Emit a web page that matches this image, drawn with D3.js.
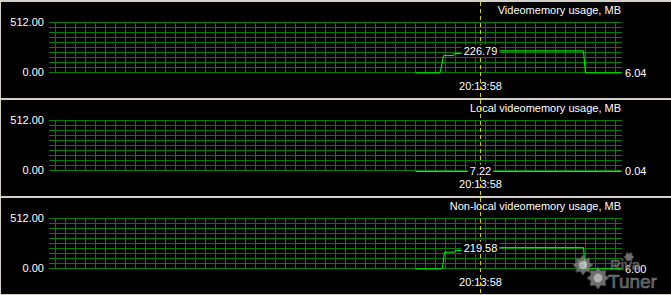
<!DOCTYPE html>
<html>
<head>
<meta charset="utf-8">
<script src="https://cdn.jsdelivr.net/npm/d3@7"></script>
<style>
  body { margin: 0; background: #d4d0c8; }
  svg { display: block; }
  text { font-family: "Liberation Sans", Arial, sans-serif; font-size: 11px; fill: #fff; }
</style>
</head>
<body>
<svg id="chart" width="671" height="295"></svg>
<script>
// panel titles and axis labels
var titles = ["Videomemory usage, MB", "Local videomemory usage, MB", "Non-local videomemory usage, MB"];
var yTicks = [0, 512];
var cursorLabel = "20:13:58";

// samples: seconds relative to cursor, value in MB
var videoT = [-65, -41, -40, -37, -27, -26, -5, 0, 103, 104, 105, 141];
var videoV = [6.04, 6.04, 25, 180, 180, 200, 200, 226.79, 226.79, 110, 6.04, 6.04];
var localT = [-65, 141];
var localV = [0.04, 0.04];
var nonlocalT = [-65, -39, -38, -36, -26, -25, -5, 0, 103, 104, 105, 141];
var nonlocalV = [6.0, 6.0, 20, 174, 174, 190, 190, 219.58, 219.58, 100, 6.0, 6.0];

var cursorValues = [226.79, 7.22, 219.58];
var lastValues = [6.04, 0.04, 6.00];

var series = [
  { t: videoT, v: videoV },
  { t: localT, v: localV },
  { t: nonlocalT, v: nonlocalV }
];

var svg = d3.select("#chart");
var panelH = 98;

// time scale, one pixel per second
var x = d3.scaleLinear().domain([-431, 141]).range([49, 621]);
var yGrid = d3.scaleLinear().domain([0, 512]).range([72.5, 22.5]);
var yData = d3.scaleLinear().domain([0, 512]).range([73.5, 22.5]);

series.forEach(function(s, i) {
  var g = svg.append("g").attr("transform", "translate(0," + (i * panelH) + ")");

  g.append("rect").attr("x", 1).attr("y", 2).attr("width", 670).attr("height", 96).attr("fill", "#000");

  // grid
  g.selectAll(".hgrid").data(d3.range(0, 513, 51.2)).enter().append("line")
    .attr("x1", x(-431)).attr("x2", x(141) + 1)
    .attr("y1", function(d) { return Math.round(yGrid(d) - 0.5) + 0.5; })
    .attr("y2", function(d) { return Math.round(yGrid(d) - 0.5) + 0.5; })
    .attr("stroke", "#008000");
  g.selectAll(".vgrid").data(d3.range(-425, 141, 10)).enter().append("line")
    .attr("x1", function(d) { return x(d) + 0.5; }).attr("x2", function(d) { return x(d) + 0.5; })
    .attr("y1", yGrid(512)).attr("y2", yGrid(0))
    .attr("stroke", "#008000");

  // y labels
  g.selectAll(".ylab").data(yTicks).enter().append("text")
    .attr("x", 44).attr("y", function(d) { return yGrid(d); })
    .attr("dy", "0.36em").attr("text-anchor", "end")
    .text(function(d) { return d.toFixed(2); });

  // data line
  var pts = s.t.map(function(t, k) { return [t, s.v[k]]; });
  var line = d3.line().x(function(d) { return x(d[0]) + 0.5; }).y(function(d) { return yData(d[1]); });
  g.append("path").datum(pts).attr("d", line)
    .attr("fill", "none").attr("stroke", "#00ff00").attr("stroke-width", 1);

  // title and time
  g.append("text").attr("x", 621).attr("y", 13.5).attr("text-anchor", "end").text(titles[i]);
  g.append("text").attr("x", x(0) + 0.5).attr("y", 90).attr("text-anchor", "middle").text(cursorLabel);

  // cursor
  g.append("line").attr("x1", x(0) + 0.5).attr("x2", x(0) + 0.5).attr("y1", 2).attr("y2", 98)
    .attr("stroke", "#d0d000").attr("stroke-dasharray", "4,3");

  // value at cursor
  var cy = yData(cursorValues[i]);
  var lab = g.append("g");
  var vt = lab.append("text").attr("x", x(0) + 0.5).attr("y", cy).attr("dy", "0.36em")
    .attr("text-anchor", "middle").text(cursorValues[i].toFixed(2));
  var bb = vt.node().getBBox();
  lab.insert("rect", "text").attr("x", bb.x - 2).attr("y", cy - 6).attr("width", bb.width + 4).attr("height", 12)
    .attr("fill", "#000");

  // last value
  g.append("text").attr("x", 625).attr("y", yData(lastValues[i])).attr("dy", "0.36em")
    .text(lastValues[i].toFixed(2));
});

// watermark
var wm = svg.append("g").attr("opacity", 0.8);
function gear(cx, cy, r, teeth) {
  var pts = [];
  for (var k = 0; k < teeth * 2; k++) {
    var a = k * Math.PI / teeth;
    var rr = k % 2 ? r * 0.7 : r;
    pts.push([cx + rr * Math.cos(a), cy + rr * Math.sin(a)]);
  }
  return d3.line().curve(d3.curveLinearClosed)(pts);
}
var gears = [[583, 265, 10, 8], [598, 278, 11, 8], [629, 257, 5, 6]];
wm.selectAll(".gear").data(gears).enter().append("path")
  .attr("d", function(d) { return gear(d[0], d[1], d[2], d[3]); })
  .attr("fill", "#8a8a8a").attr("stroke", "#555");
wm.selectAll(".hub").data(gears.slice(0, 2)).enter().append("circle")
  .attr("cx", function(d) { return d[0]; }).attr("cy", function(d) { return d[1]; })
  .attr("r", function(d) { return d[2] * 0.4; }).attr("fill", "#ddd");
wm.append("text").attr("x", 610).attr("y", 270).style("font-size", "15px")
  .style("fill", "#5a5a5a").style("stroke", "#888").style("stroke-width", 0.6).text("Riva");
wm.append("text").attr("x", 608).attr("y", 288).style("font-size", "19px")
  .style("fill", "#6a6a6a").style("stroke", "#999").style("stroke-width", 0.6).text("Tuner");
</script>
</body>
</html>
